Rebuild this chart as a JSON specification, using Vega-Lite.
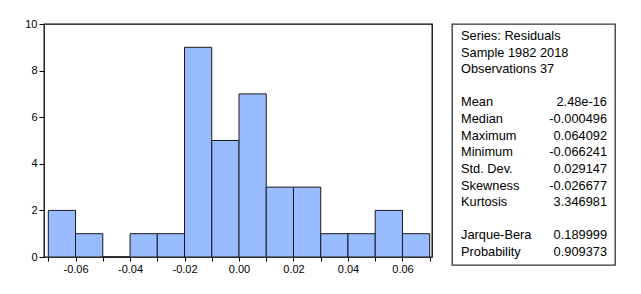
{
  "$schema": "https://vega.github.io/schema/vega-lite/v6.json",
  "padding": {"left": 24, "top": 17, "right": 5, "bottom": 5},
  "background": "white",
  "bounds": "flush",
  "spacing": 20,
  "config": {
    "font": "Liberation Sans",
    "view": {"stroke": "black", "strokeWidth": 1.3},
    "axis": {"grid": false, "domain": false, "tickColor": "black", "labelColor": "black", "labelFont": "Liberation Sans", "labelFontSize": 11}
  },
  "hconcat": [
    {
      "width": 388,
      "height": 233,
      "data": {"values": [
        {"bin_start": -0.07, "bin_end": -0.06, "count": 2},
        {"bin_start": -0.06, "bin_end": -0.05, "count": 1},
        {"bin_start": -0.05, "bin_end": -0.04, "count": 0},
        {"bin_start": -0.04, "bin_end": -0.03, "count": 1},
        {"bin_start": -0.03, "bin_end": -0.02, "count": 1},
        {"bin_start": -0.02, "bin_end": -0.01, "count": 9},
        {"bin_start": -0.01, "bin_end": 0.0, "count": 5},
        {"bin_start": 0.0, "bin_end": 0.01, "count": 7},
        {"bin_start": 0.01, "bin_end": 0.02, "count": 3},
        {"bin_start": 0.02, "bin_end": 0.03, "count": 3},
        {"bin_start": 0.03, "bin_end": 0.04, "count": 1},
        {"bin_start": 0.04, "bin_end": 0.05, "count": 1},
        {"bin_start": 0.05, "bin_end": 0.06, "count": 2},
        {"bin_start": 0.06, "bin_end": 0.07, "count": 1}
      ]},
      "mark": {"type": "rect", "fill": "#99bbff", "stroke": "#1a1a1a", "strokeWidth": 1},
      "encoding": {
        "x": {
          "field": "bin_start", "type": "quantitative",
          "scale": {"domain": [-0.07158, 0.07084], "nice": false, "zero": false},
          "axis": {
            "title": null,
            "values": [-0.07, -0.06, -0.05, -0.04, -0.03, -0.02, -0.01, 0, 0.01, 0.02, 0.03, 0.04, 0.05, 0.06, 0.07],
            "labelExpr": "abs(round(datum.value*100)) % 2 == 0 ? replace(format(datum.value, '.2f'), '\u2212', '-') : ''",
            "tickSize": 4, "labelPadding": 2, "labelFlush": false, "labelOverlap": false
          }
        },
        "x2": {"field": "bin_end"},
        "y": {
          "field": "count", "type": "quantitative",
          "scale": {"domain": [0, 10], "nice": false},
          "axis": {"title": null, "values": [0, 2, 4, 6, 8, 10], "tickSize": 5, "labelPadding": 2}
        },
        "y2": {"datum": 0}
      }
    },
    {
      "width": 163,
      "height": 241,
      "view": {"stroke": "#333", "strokeWidth": 1.3},
      "data": {"values": [
        {"row": 0, "label": "Series: Residuals", "value": ""},
        {"row": 1, "label": "Sample 1982 2018", "value": ""},
        {"row": 2, "label": "Observations 37", "value": ""},
        {"row": 4, "label": "Mean", "value": "2.48e-16"},
        {"row": 5, "label": "Median", "value": "-0.000496"},
        {"row": 6, "label": "Maximum", "value": "0.064092"},
        {"row": 7, "label": "Minimum", "value": "-0.066241"},
        {"row": 8, "label": "Std. Dev.", "value": "0.029147"},
        {"row": 9, "label": "Skewness", "value": "-0.026677"},
        {"row": 10, "label": "Kurtosis", "value": "3.346981"},
        {"row": 12, "label": "Jarque-Bera", "value": "0.189999"},
        {"row": 13, "label": "Probability", "value": "0.909373"}
      ]},
      "encoding": {
        "y": {"field": "row", "type": "quantitative", "scale": {"domain": [-0.722, 13.783], "reverse": true, "nice": false, "zero": false}, "axis": null}
      },
      "layer": [
        {
          "mark": {"type": "text", "align": "left", "baseline": "middle", "fontSize": 12.8, "font": "Liberation Sans", "color": "black"},
          "encoding": {
            "x": {"datum": 0, "type": "quantitative", "scale": {"domain": [-0.0616, 1.0548], "nice": false, "zero": false}, "axis": null},
            "text": {"field": "label", "type": "nominal"}
          }
        },
        {
          "mark": {"type": "text", "align": "right", "baseline": "middle", "fontSize": 12.8, "font": "Liberation Sans", "color": "black"},
          "encoding": {
            "x": {"datum": 1, "type": "quantitative"},
            "text": {"field": "value", "type": "nominal"}
          }
        }
      ]
    }
  ]
}
